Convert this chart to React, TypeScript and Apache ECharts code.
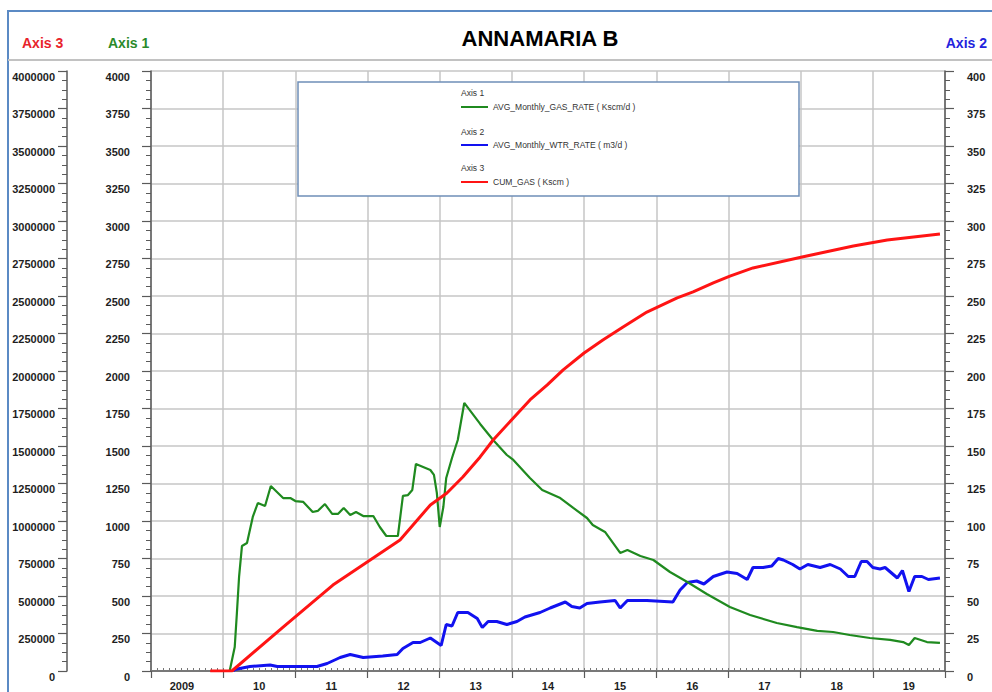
import React, { useEffect, useRef } from 'react';
import * as echarts from 'echarts';

const xTickLabels = ['2009', '10', '11', '12', '13', '14', '15', '16', '17', '18', '19'];

const gasYears = [2010.09, 2010.16, 2010.19, 2010.22, 2010.26, 2010.33, 2010.41, 2010.48, 2010.58, 2010.66, 2010.83, 2010.93, 2011.00, 2011.11, 2011.24, 2011.31, 2011.41, 2011.51, 2011.59, 2011.67, 2011.76, 2011.84, 2011.94, 2012.08, 2012.17, 2012.26, 2012.42, 2012.49, 2012.56, 2012.62, 2012.67, 2012.77, 2012.87, 2012.92, 2012.96, 2013.00, 2013.05, 2013.09, 2013.17, 2013.25, 2013.34, 2013.56, 2013.74, 2013.93, 2014.02, 2014.25, 2014.42, 2014.67, 2014.85, 2015.04, 2015.12, 2015.29, 2015.50, 2015.60, 2015.78, 2015.96, 2016.19, 2016.43, 2016.70, 2017.02, 2017.30, 2017.67, 2017.95, 2018.23, 2018.45, 2018.68, 2018.96, 2019.24, 2019.42, 2019.50, 2019.58, 2019.75, 2019.93];
const gasValues = [0, 160, 387, 627, 833, 853, 1027, 1120, 1100, 1233, 1153, 1153, 1133, 1127, 1060, 1067, 1113, 1047, 1047, 1087, 1040, 1060, 1033, 1033, 960, 900, 900, 1167, 1173, 1207, 1380, 1360, 1340, 1307, 1187, 960, 1093, 1287, 1420, 1540, 1787, 1647, 1540, 1440, 1407, 1287, 1207, 1153, 1087, 1020, 973, 927, 787, 807, 767, 740, 660, 593, 513, 427, 373, 320, 293, 267, 260, 240, 220, 207, 193, 173, 220, 193, 187];

const wtrYears = [2010.14, 2010.16, 2010.37, 2010.65, 2010.75, 2010.88, 2011.02, 2011.30, 2011.44, 2011.62, 2011.76, 2011.94, 2012.21, 2012.41, 2012.49, 2012.63, 2012.73, 2012.87, 2013.02, 2013.09, 2013.17, 2013.25, 2013.39, 2013.52, 2013.59, 2013.67, 2013.79, 2013.93, 2014.07, 2014.18, 2014.39, 2014.53, 2014.74, 2014.83, 2014.94, 2015.04, 2015.22, 2015.43, 2015.50, 2015.60, 2015.87, 2016.23, 2016.33, 2016.43, 2016.56, 2016.66, 2016.79, 2016.98, 2017.12, 2017.26, 2017.34, 2017.48, 2017.60, 2017.69, 2017.76, 2017.89, 2017.99, 2018.10, 2018.27, 2018.41, 2018.55, 2018.66, 2018.75, 2018.84, 2018.92, 2019.00, 2019.10, 2019.17, 2019.34, 2019.41, 2019.50, 2019.58, 2019.68, 2019.77, 2019.93];
const wtrValues = [0, 1, 3, 4, 3, 3, 3, 3, 5, 9, 11, 9, 10, 11, 15, 19, 19, 22, 17, 31, 30, 39, 39, 35, 29, 33, 33, 31, 33, 36, 39, 42, 46, 43, 42, 45, 46, 47, 42, 47, 47, 46, 54, 59, 60, 58, 63, 66, 65, 61, 69, 69, 70, 75, 74, 71, 68, 71, 69, 71, 68, 63, 63, 73, 73, 69, 68, 69, 62, 67, 53, 63, 63, 61, 62];

const cumYears = [2009.82, 2010.12, 2010.83, 2011.52, 2012.45, 2012.87, 2013.10, 2013.32, 2013.56, 2013.74, 2014.02, 2014.25, 2014.49, 2014.71, 2015.00, 2015.26, 2015.54, 2015.87, 2016.29, 2016.51, 2016.79, 2017.02, 2017.34, 2018.02, 2018.73, 2019.20, 2019.93];
const cumValues = [0, 0, 293000, 573000, 873000, 1107000, 1187000, 1293000, 1427000, 1540000, 1687000, 1807000, 1907000, 2007000, 2120000, 2207000, 2293000, 2393000, 2487000, 2527000, 2587000, 2633000, 2687000, 2760000, 2833000, 2873000, 2913000];

const zip = (xs: number[], ys: number[]) => xs.map((x, i) => [x, ys[i]]);

const AXIS_COLOR = '#5a5a5a';
const GRID_COLOR = '#c6c6c6';
const FONT_FAMILY = '"Liberation Sans", Arial, sans-serif';
const LABEL_STYLE = {
  color: '#1e1e1e',
  fontWeight: 'bold' as const,
  fontSize: 11,
  fontFamily: FONT_FAMILY,
};

const plain = (v: number) => String(Math.round(v));

function makeYAxis(opts: any) {
  return {
    type: 'value',
    axisLine: { show: true, onZero: false, lineStyle: { color: AXIS_COLOR, width: 1.5 } },
    axisTick: { show: true, length: 9, lineStyle: { color: AXIS_COLOR, width: 1.2 } },
    minorTick: { show: true, splitNumber: 4, length: 5, lineStyle: { color: AXIS_COLOR, width: 1 } },
    splitLine: { show: false },
    ...opts,
  };
}

function txt(text: string, x: number, y: number, fill: string, font: string, align = 'left') {
  return {
    type: 'text',
    x,
    y,
    z: 100,
    style: {
      text,
      fill,
      font,
      align,
      textAlign: align,
      verticalAlign: 'middle',
      textVerticalAlign: 'middle',
    },
  };
}

const LEG_FONT = '8.5px ' + FONT_FAMILY;
const AXIS_TITLE_FONT = 'bold 14px ' + FONT_FAMILY;

const option: any = {
  animation: false,
  backgroundColor: '#ffffff',
  grid: { left: 151, right: 47, top: 71, bottom: 21, containLabel: false, outerBoundsMode: 'none' },
  xAxis: [
    {
      type: 'value',
      min: 2009,
      max: 2020,
      interval: 1,
      position: 'bottom',
      axisLine: { show: true, onZero: false, lineStyle: { color: AXIS_COLOR, width: 1.5 } },
      axisTick: { show: true, length: 7, lineStyle: { color: AXIS_COLOR, width: 1.2 } },
      axisLabel: {
        ...LABEL_STYLE,
        margin: 9,
        formatter: (v: number) => {
          const i = Math.round(v - 2009);
          if (i < 0 || i >= xTickLabels.length) return '';
          return (i === 0 ? '{f|' : '{n|') + xTickLabels[i] + '}';
        },
        rich: {
          f: { ...LABEL_STYLE, padding: [0, 0, 0, 62] },
          n: { ...LABEL_STYLE, padding: [0, 0, 0, 72] },
        },
      },
      splitLine: { show: true, lineStyle: { color: GRID_COLOR, width: 1.5 } },
    },
    {
      type: 'value',
      min: 2009,
      max: 2020,
      interval: 1 / 12,
      position: 'bottom',
      axisLine: { show: false },
      axisTick: { show: true, inside: true, length: 3, lineStyle: { color: '#777', width: 1 } },
      axisLabel: { show: false },
      splitLine: { show: false },
    },
  ],
  yAxis: [
    makeYAxis({
      position: 'left',
      min: 0,
      max: 4000,
      interval: 250,
      axisLabel: { ...LABEL_STYLE, margin: 21, verticalAlign: 'top', formatter: plain },
      splitLine: { show: true, lineStyle: { color: GRID_COLOR, width: 1.5 } },
    }),
    makeYAxis({
      position: 'right',
      min: 0,
      max: 400,
      interval: 25,
      axisLabel: { ...LABEL_STYLE, margin: 22, verticalAlign: 'top', formatter: plain },
    }),
    makeYAxis({
      position: 'left',
      offset: 84,
      min: 0,
      max: 4000000,
      interval: 250000,
      axisLabel: { ...LABEL_STYLE, margin: 12, verticalAlign: 'top', formatter: plain },
    }),
  ],
  series: [
    {
      name: 'AVG_Monthly_WTR_RATE ( m3/d )',
      type: 'line',
      xAxisIndex: 0,
      yAxisIndex: 1,
      showSymbol: false,
      symbol: 'none',
      lineStyle: { color: '#1212f0', width: 3 },
      data: zip(wtrYears, wtrValues),
    },
    {
      name: 'AVG_Monthly_GAS_RATE ( Kscm/d )',
      type: 'line',
      xAxisIndex: 0,
      yAxisIndex: 0,
      showSymbol: false,
      symbol: 'none',
      lineStyle: { color: '#1f8a1f', width: 2.2 },
      data: zip(gasYears, gasValues),
    },
    {
      name: 'CUM_GAS ( Kscm )',
      type: 'line',
      xAxisIndex: 0,
      yAxisIndex: 2,
      showSymbol: false,
      symbol: 'none',
      lineStyle: { color: '#ff1414', width: 3 },
      data: zip(cumYears, cumValues),
    },
  ],
  graphic: [
    { type: 'rect', z: 90, shape: { x: 8, y: 11, width: 990, height: 700 }, style: { fill: 'none', stroke: '#5b8ac4', lineWidth: 2 } },
    { type: 'line', z: 90, shape: { x1: 8, y1: 60, x2: 992, y2: 60 }, style: { stroke: '#c2c2c2', lineWidth: 2 } },
    txt('ANNAMARIA B', 540, 38, '#000', 'bold 22px ' + FONT_FAMILY, 'center'),
    txt('Axis 3', 22, 43, '#e8232b', AXIS_TITLE_FONT),
    txt('Axis 1', 108, 43, '#2a8a2a', AXIS_TITLE_FONT),
    txt('Axis 2', 987, 43, '#2323dd', AXIS_TITLE_FONT, 'right'),
    { type: 'rect', z: 95, shape: { x: 298, y: 82, width: 501, height: 114 }, style: { fill: '#ffffff', stroke: '#6f8fb8', lineWidth: 1.5 } },
    txt('Axis 1', 461, 93, '#333', LEG_FONT),
    { type: 'line', z: 100, shape: { x1: 461, y1: 107, x2: 488, y2: 107 }, style: { stroke: '#1f8a1f', lineWidth: 2 } },
    txt('AVG_Monthly_GAS_RATE ( Kscm/d )', 493, 107, '#333', LEG_FONT),
    txt('Axis 2', 461, 132, '#333', LEG_FONT),
    { type: 'line', z: 100, shape: { x1: 461, y1: 145, x2: 488, y2: 145 }, style: { stroke: '#1212f0', lineWidth: 2 } },
    txt('AVG_Monthly_WTR_RATE ( m3/d )', 493, 145, '#333', LEG_FONT),
    txt('Axis 3', 461, 168, '#333', LEG_FONT),
    { type: 'line', z: 100, shape: { x1: 461, y1: 182, x2: 488, y2: 182 }, style: { stroke: '#ff1414', lineWidth: 2 } },
    txt('CUM_GAS ( Kscm )', 493, 182, '#333', LEG_FONT),
  ],
};

export default function App() {
  const ref = useRef<HTMLDivElement>(null);
  useEffect(() => {
    if (!ref.current) return;
    const chart = echarts.init(ref.current, null, { renderer: 'svg' });
    chart.setOption(option);
    return () => chart.dispose();
  }, []);
  return (
    <div
      ref={ref}
      style={{ position: 'fixed', left: 0, top: 0, width: 992, height: 692, background: '#ffffff' }}
    />
  );
}
